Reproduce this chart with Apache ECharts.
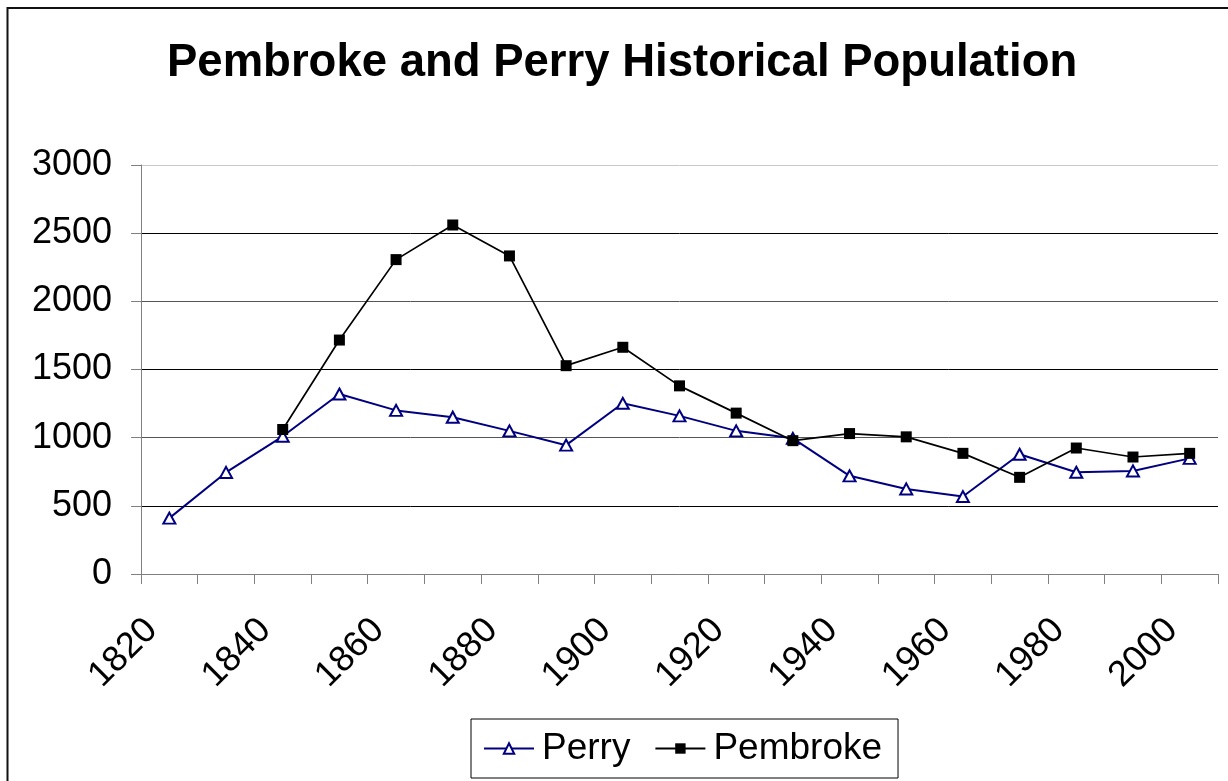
<!DOCTYPE html>
<html>
<head>
<meta charset="utf-8">
<script src="https://cdn.jsdelivr.net/npm/echarts@6/dist/echarts.min.js"></script>
<style>
  html, body { margin: 0; padding: 0; background: #fff; }
  #chart { width: 1228px; height: 781px; }
</style>
</head>
<body>
<div id="chart"></div>
<script>
var titleText = 'Pembroke and Perry Historical Population';
var years = ['1820','1830','1840','1850','1860','1870','1880','1890','1900','1910',
             '1920','1930','1940','1950','1960','1970','1980','1990','2000'];
var perry = [410, 745, 1010, 1320, 1200, 1150, 1050, 945, 1252, 1160,
             1050, 995, 720, 624, 568, 878, 746, 756, 848];
var pembroke = [null, null, 1060, 1716, 2306, 2560, 2333, 1528, 1663, 1380,
                1180, 978, 1030, 1006, 885, 709, 924, 858, 885];
var yMin = 0, yMax = 3000, yStep = 500;

var FONT = '"Liberation Sans", Arial, sans-serif';
var chart = echarts.init(document.getElementById('chart'), null, { renderer: 'canvas' });
chart.setOption({
  animation: false,
  backgroundColor: '#ffffff',
  graphic: [{
    type: 'rect', silent: true, z: -10,
    shape: { x: 7.5, y: 8, width: 1300, height: 900 },
    style: { fill: 'none', stroke: '#111', lineWidth: 2 }
  }],
  title: {
    text: titleText,
    left: 162, top: 35,
    textStyle: { fontFamily: FONT, fontSize: 45.5, fontWeight: 'bold', color: '#000' }
  },
  grid: { left: 141, top: 165, right: 10, bottom: 207, containLabel: false },
  xAxis: {
    type: 'category',
    data: years,
    boundaryGap: true,
    axisLine: { lineStyle: { color: '#808080', width: 1 } },
    axisTick: { show: true, interval: 0, length: 10, lineStyle: { color: '#808080' } },
    axisLabel: {
      interval: 1, rotate: 45, margin: 33, padding: [0, 25, 0, 0],
      fontFamily: FONT, fontSize: 36, color: '#000'
    },
    splitLine: { show: false }
  },
  yAxis: {
    type: 'value',
    min: yMin, max: yMax, interval: yStep,
    axisLine: { show: true, lineStyle: { color: '#808080', width: 1 } },
    axisTick: { show: true, length: 10, lineStyle: { color: '#808080' } },
    axisLabel: {
      margin: 29, fontFamily: FONT, fontSize: 36, color: '#000',
      formatter: function (v) { return String(v); }
    },
    splitLine: {
      show: true,
      lineStyle: { width: 1, color: ['#808080', '#000', '#555', '#000', '#555', '#000', '#c8c8c8'] }
    }
  },
  legend: {
    left: 471, top: 719,
    orient: 'horizontal',
    padding: [11, 16, 11, 12],
    itemGap: 24,
    itemWidth: 50, itemHeight: 13,
    borderColor: '#000', borderWidth: 1, borderRadius: 0,
    backgroundColor: '#fff',
    textStyle: { fontFamily: FONT, fontSize: 37, color: '#000', padding: [0, 0, 0, 3] },
    data: ['Perry', 'Pembroke']
  },
  series: [
    {
      name: 'Perry', type: 'line', data: perry,
      symbol: 'emptyTriangle', symbolSize: [12, 11],
      lineStyle: { color: '#000080', width: 2 },
      itemStyle: { color: '#000080', borderColor: '#000080', borderWidth: 1.7 },
      z: 2
    },
    {
      name: 'Pembroke', type: 'line', data: pembroke,
      symbol: 'rect', symbolSize: 11,
      lineStyle: { color: '#000', width: 1.7 },
      itemStyle: { color: '#000' },
      z: 3
    }
  ]
});
</script>
</body>
</html>
